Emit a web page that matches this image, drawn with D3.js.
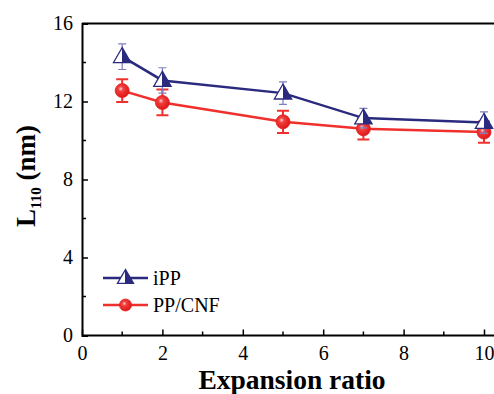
<!DOCTYPE html>
<html>
<head>
<meta charset="utf-8">
<script src="https://cdn.jsdelivr.net/npm/d3@7"></script>
<style>
  body { margin: 0; background: #fff; }
</style>
</head>
<body>
<div id="chart"></div>
<script>
var svgWidth = 494;
var svgHeight = 394;
var serif = "'Liberation Serif', 'Times New Roman', 'DejaVu Serif', serif";

// data
var ratios = [1, 2, 5, 7, 10];
var ippValues = [14.3, 13.08, 12.43, 11.15, 10.92];
var ippErrors = [0.66, 0.65, 0.58, 0.5, 0.55];
var cnfValues = [12.56, 11.95, 10.96, 10.6, 10.43];
var cnfErrors = [0.58, 0.66, 0.57, 0.55, 0.55];
var xTicks = [0, 2, 4, 6, 8, 10];
var yTicks = [0, 4, 8, 12, 16];

var seriesList = [
  { name: "iPP", values: ippValues, errors: ippErrors, color: "#2a2a7e", errColor: "#7d7dc0", marker: "triangle" },
  { name: "PP/CNF", values: cnfValues, errors: cnfErrors, color: "#f0302c", errColor: "#f0302c", marker: "circle" }
];

var svg = d3.select("#chart")
  .append("svg")
  .attr("width", svgWidth)
  .attr("height", svgHeight)
  .style("font-family", serif);

var defs = svg.append("defs");
var grad = defs.append("radialGradient")
  .attr("id", "ball")
  .attr("cx", "0.4").attr("cy", "0.38").attr("r", "0.6");
grad.append("stop").attr("offset", "0").attr("stop-color", "#ffd0d0");
grad.append("stop").attr("offset", "0.3").attr("stop-color", "#f04040");
grad.append("stop").attr("offset", "1").attr("stop-color", "#e01818");

var triGrad = defs.append("linearGradient")
  .attr("id", "halfTri")
  .attr("x1", "0").attr("x2", "1").attr("y1", "0").attr("y2", "0");
triGrad.append("stop").attr("offset", "0.5").attr("stop-color", "#ffffff");
triGrad.append("stop").attr("offset", "0.5").attr("stop-color", "#2a2a7e");

var x = d3.scaleLinear().domain([0, 10]).range([82, 484]);
var y = d3.scaleLinear().domain([0, 16]).range([335.5, 23.5]);

// frame: top line runs off the right edge
svg.append("line")
  .attr("x1", x(0)).attr("x2", svgWidth + 5)
  .attr("y1", y(16)).attr("y2", y(16))
  .attr("stroke", "#000").attr("stroke-width", 2);

// x axis (ticks inward)
var xAxis = svg.append("g")
  .attr("transform", `translate(0, ${y(0)})`)
  .call(d3.axisBottom(x).tickValues(xTicks).tickSize(-6).tickPadding(10).tickFormat(d3.format("d")));
xAxis.style("font-family", serif);
xAxis.select(".domain").attr("d", `M${x(0)},0H${svgWidth + 5}`).attr("stroke-width", 2);
xAxis.selectAll(".tick line").attr("stroke-width", 1.5);
xAxis.selectAll("text").attr("font-size", 20).attr("fill", "#000");
xAxis.selectAll(".minor")
  .data([1, 3, 5, 7, 9])
  .enter().append("line")
  .attr("x1", d => x(d)).attr("x2", d => x(d))
  .attr("y1", 0).attr("y2", -4)
  .attr("stroke", "#000").attr("stroke-width", 1.5);

// y axis
var yAxis = svg.append("g")
  .attr("transform", `translate(${x(0)}, 0)`)
  .call(d3.axisLeft(y).tickValues(yTicks).tickSize(-6).tickPadding(9).tickFormat(d3.format("d")));
yAxis.style("font-family", serif);
yAxis.select(".domain").attr("stroke-width", 2);
yAxis.selectAll(".tick line").attr("stroke-width", 1.5);
yAxis.selectAll("text").attr("font-size", 20).attr("fill", "#000");
yAxis.selectAll(".minor")
  .data([2, 6, 10, 14])
  .enter().append("line")
  .attr("y1", d => y(d)).attr("y2", d => y(d))
  .attr("x1", 0).attr("x2", 4)
  .attr("stroke", "#000").attr("stroke-width", 1.5);

// axis titles
svg.append("text")
  .attr("x", 292).attr("y", 389)
  .attr("text-anchor", "middle")
  .attr("font-size", 27.5).attr("font-weight", "bold")
  .text("Expansion ratio");

var yTitle = svg.append("text")
  .attr("transform", "translate(35, 176) rotate(-90)")
  .attr("text-anchor", "middle")
  .attr("font-size", 27).attr("font-weight", "bold");
yTitle.append("tspan").text("L");
yTitle.append("tspan").attr("font-size", 15).attr("dy", 6).text("110");
yTitle.append("tspan").attr("dy", -6).text(" (nm)");

function drawMarker(g, s, cx, cy, size) {
  if (s.marker === "triangle") {
    var h = size * 1.05;
    g.append("path")
      .attr("d", `M${cx},${cy - h * 0.62}L${cx + size * 0.62},${cy + h * 0.4}L${cx - size * 0.62},${cy + h * 0.4}Z`)
      .attr("fill", "url(#halfTri)")
      .attr("stroke", s.color).attr("stroke-width", 1.3);
  } else {
    g.append("circle")
      .attr("cx", cx).attr("cy", cy).attr("r", size * 0.5)
      .attr("fill", "url(#ball)")
      .attr("stroke", "#e02020").attr("stroke-width", 0.8);
  }
}

var line = d3.line()
  .x((d, i) => x(ratios[i]))
  .y(d => y(d));

// draw PP/CNF first so iPP sits on top
seriesList.slice().reverse().forEach(function(s) {
  var g = svg.append("g");
  var thick = s.marker === "circle" ? 2 : 1.2;
  var cap = s.marker === "circle" ? 6 : 4;

  g.selectAll(".err")
    .data(s.values)
    .enter().append("path")
    .attr("d", (d, i) => {
      var cx = x(ratios[i]);
      var top = y(d + s.errors[i]), bot = y(d - s.errors[i]);
      return `M${cx},${top}V${bot}M${cx - cap},${top}H${cx + cap}M${cx - cap},${bot}H${cx + cap}`;
    })
    .attr("fill", "none")
    .attr("stroke", s.errColor).attr("stroke-width", thick);

  g.append("path")
    .datum(s.values)
    .attr("d", line)
    .attr("fill", "none")
    .attr("stroke", s.color).attr("stroke-width", 2.5);

  s.values.forEach(function(d, i) {
    drawMarker(g, s, x(ratios[i]), y(d), 14);
  });
});

// legend
var legend = svg.append("g");
seriesList.forEach(function(s, i) {
  var ly = 278 + i * 27;
  legend.append("line")
    .attr("x1", 103).attr("x2", 148)
    .attr("y1", ly).attr("y2", ly)
    .attr("stroke", s.color).attr("stroke-width", 2.5);
  drawMarker(legend, s, 125.5, ly, s.marker === "circle" ? 12 : 13);
  legend.append("text")
    .attr("x", 153).attr("y", ly + 7)
    .attr("font-size", 20)
    .text(s.name);
});
</script>
</body>
</html>
